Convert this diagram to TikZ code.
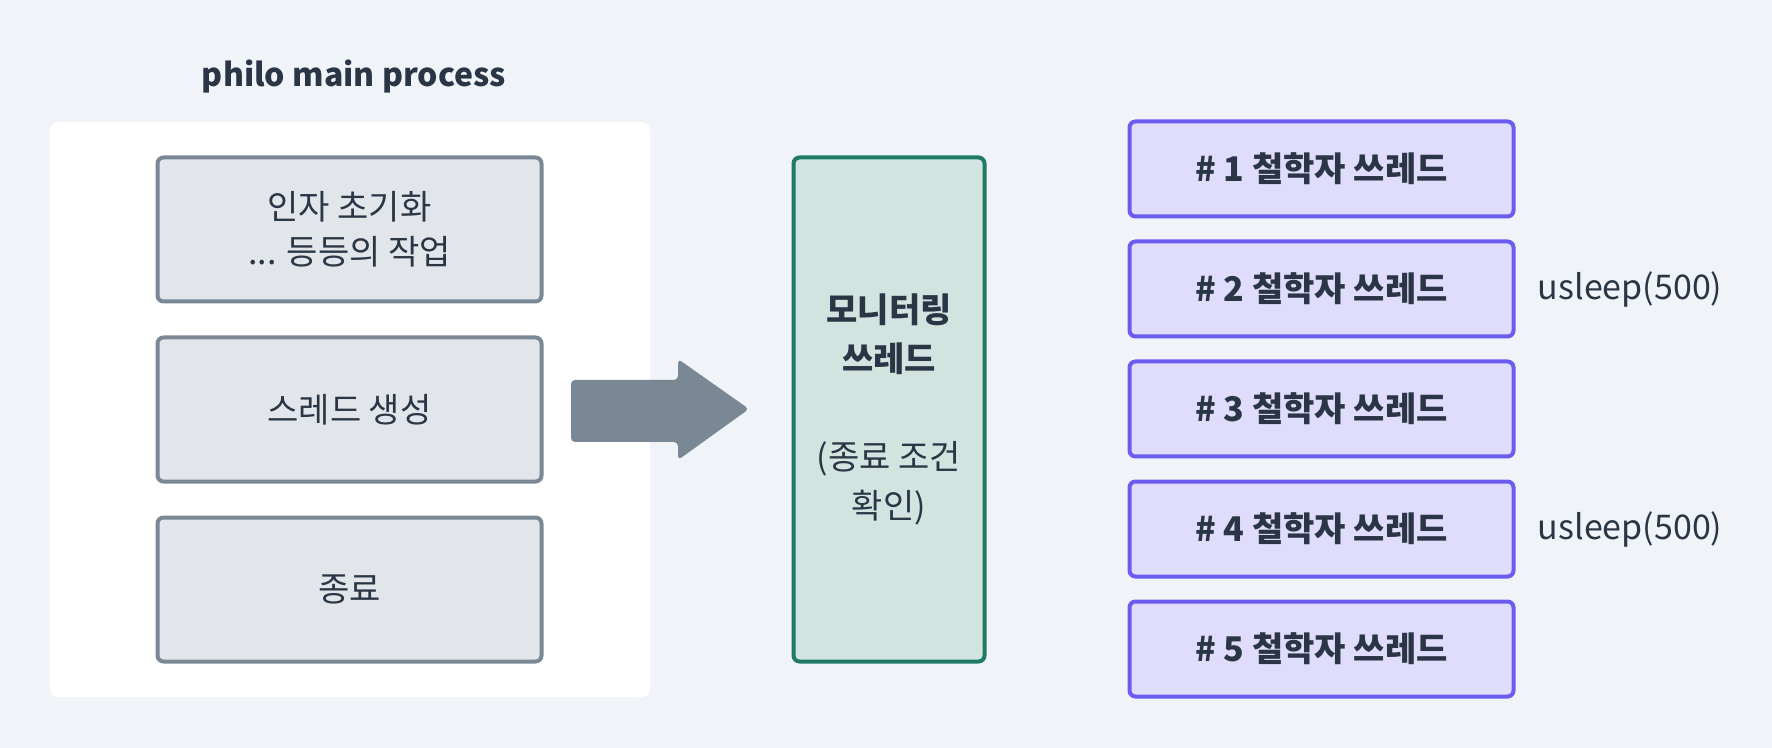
\documentclass[tikz,border=0pt]{standalone}
\usepackage{fontspec}
\setmainfont{Noto Sans CJK KR}
\usetikzlibrary{positioning}
\definecolor{bgcol}{HTML}{F0F4F8}
\definecolor{txtcol}{HTML}{2A3645}
\definecolor{slate}{HTML}{7A8896}
\definecolor{slatefill}{HTML}{E2E6EA}
\definecolor{monline}{HTML}{1F7A66}
\definecolor{monfill}{HTML}{D1E4E0}
\definecolor{philoline}{HTML}{6B5CF0}
\definecolor{philofill}{HTML}{E0DCFC}
\tikzstyle{every node}=[font=\fontsize{17}{22.5}\selectfont, text=txtcol]
\tikzstyle{mainbox}=[draw=slate, fill=slatefill, line width=2pt, rounded corners=3pt,
  minimum width=192pt, minimum height=72pt, align=center]
\tikzstyle{monbox}=[draw=monline, fill=monfill, line width=2pt, rounded corners=3pt,
  minimum width=95.5pt, minimum height=252pt, align=center]
\tikzstyle{philobox}=[draw=philoline, fill=philofill, line width=2pt, rounded corners=3pt,
  minimum width=192pt, minimum height=47.5pt, font=\fontsize{17}{22.5}\selectfont\bfseries]

\begin{document}
\begin{tikzpicture}[x=0.5pt,y=-0.5pt,inner sep=0pt]
  \fill[bgcol] (0,0) rectangle (1772,748);
  \useasboundingbox (0,0) rectangle (1772,748);
  \fill[white, rounded corners=4pt] (50,122) rectangle (650,697);
  \node[font=\fontsize{16}{22.5}\selectfont\bfseries] (title) at (354,77) {philo main process};
  \node[mainbox] (init) at (349.5,229.5) {인자 초기화\\... 등등의 작업};
  \node[mainbox, below=16pt of init] (create) {스레드 생성};
  \node[mainbox, below=16pt of create] (finish) {종료};
  \fill[slate, rounded corners=2pt] (571,380) -- (678,380) -- (678,359) -- (749,409)
    -- (678,460) -- (678,442) -- (571,442) -- cycle;
  \node[monbox, font=\fontsize{17}{24.5}\selectfont] (monitor) at (889,409.5)
    {\textbf{모니터링}\\\textbf{쓰레드}\\[24.5pt](종료 조건\\확인)};
  \node[philobox] (philo1) at (1321.5,169) {\# 1 철학자 쓰레드};
  \node[philobox, below=10.5pt of philo1] (philo2) {\# 2 철학자 쓰레드};
  \node[philobox, below=10.5pt of philo2] (philo3) {\# 3 철학자 쓰레드};
  \node[philobox, below=10.5pt of philo3] (philo4) {\# 4 철학자 쓰레드};
  \node[philobox, below=10.5pt of philo4] (philo5) {\# 5 철학자 쓰레드};
  \node[right=11pt of philo2] (sleep2) {usleep(500)};
  \node[right=11pt of philo4] (sleep4) {usleep(500)};
\end{tikzpicture}
\end{document}
